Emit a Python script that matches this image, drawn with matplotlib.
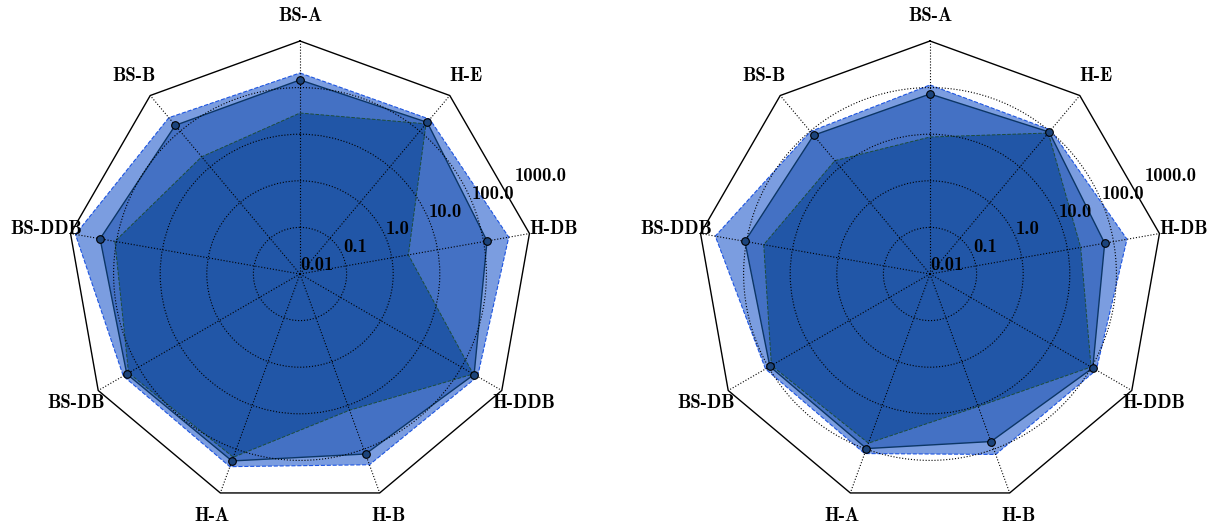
import numpy as np
import matplotlib.pyplot as plt

labels = ['BS-A', 'H-E', 'H-DB', 'H-DDB', 'H-B', 'H-A', 'BS-DB', 'BS-DDB', 'BS-B']

# left chart
left_outer = [206, 216, 354, 251, 227, 251, 239, 781, 239]
left_mid = [146, 177, 119, 206, 129, 186, 196, 227, 146]
left_inner = [28.5, 161, 2.3, 196, 12.9, 153, 177, 108, 19.2]

# right chart
right_outer = [114, 108, 196, 132, 132, 126, 119, 477, 98]
right_mid = [73, 95, 64, 108, 67, 97, 93, 108, 77]
right_inner = [8.7, 89, 19.2, 98, 10.6, 73, 85, 42, 15]

rticks = [0.01, 0.1, 1, 10, 100, 1000]
rtick_labels = ['0.01', '0.1', '1.0', '10.0', '100.0', '1000.0']

FONT = 'cmb10'
FS = 13.5

angles = np.linspace(0, 2 * np.pi, len(labels), endpoint=False)
ang_c = np.r_[angles, angles[0]]


def close(v):
    return np.r_[v, v[0]]


def radar(ax, outer, mid, inner):
    ax.set_theta_offset(np.pi / 2)
    ax.set_theta_direction(-1)
    ax.set_rscale('log')
    ax.set_rlim(0.01, 1000)
    ax.set_rgrids([0.1, 1, 10, 100], labels=[''] * 4)
    ax.set_xticks(angles)
    ax.set_xticklabels([])
    ax.grid(True, color='k', ls=':', lw=0.8)
    ax.set_axisbelow(False)
    ax.spines['polar'].set_visible(False)
    ax.patch.set_visible(False)

    # polygon frame
    ax.plot(ang_c, [1000] * len(ang_c), color='k', lw=1, clip_on=False, zorder=3)

    ax.fill(ang_c, close(outer), color='#7b9de0', lw=0, zorder=1)
    ax.plot(ang_c, close(outer), '--', color='#1e55e0', lw=0.8, zorder=1.1)
    ax.fill(ang_c, close(mid), color='#4471c4', lw=0, zorder=1.2)
    ax.plot(ang_c, close(mid), '-', color='#0c3666', lw=1, zorder=1.3)
    ax.fill(ang_c, close(inner), color='#2156a7', lw=0, zorder=1.4)
    ax.plot(ang_c, close(inner), '--', color='#1e4d3a', lw=0.7, zorder=1.5)
    ax.plot(angles, mid, 'o', ms=5.5, mfc='#1c447c', mec='k', mew=0.8, zorder=4)

    r_lab = 10 ** (-2 + 5 * 258 / 233)
    for a, lab in zip(angles, labels):
        ax.text(a, r_lab, lab, ha='center', va='center', fontsize=FS,
                fontfamily=FONT, clip_on=False)
    th = np.deg2rad(90 - 22.5)
    for v, s in zip(rticks, rtick_labels):
        ax.text(th, v, s, ha='left', va='bottom', fontsize=FS, fontfamily=FONT,
                zorder=5)


fig = plt.figure(figsize=(12.17, 5.28), dpi=100)
ax1 = fig.add_axes([67 / 1217, 21 / 528, 466 / 1217, 466 / 528], projection='polar')
ax2 = fig.add_axes([697 / 1217, 21 / 528, 466 / 1217, 466 / 528], projection='polar')
radar(ax1, left_outer, left_mid, left_inner)
radar(ax2, right_outer, right_mid, right_inner)

fig.savefig('out.png', dpi=100)
